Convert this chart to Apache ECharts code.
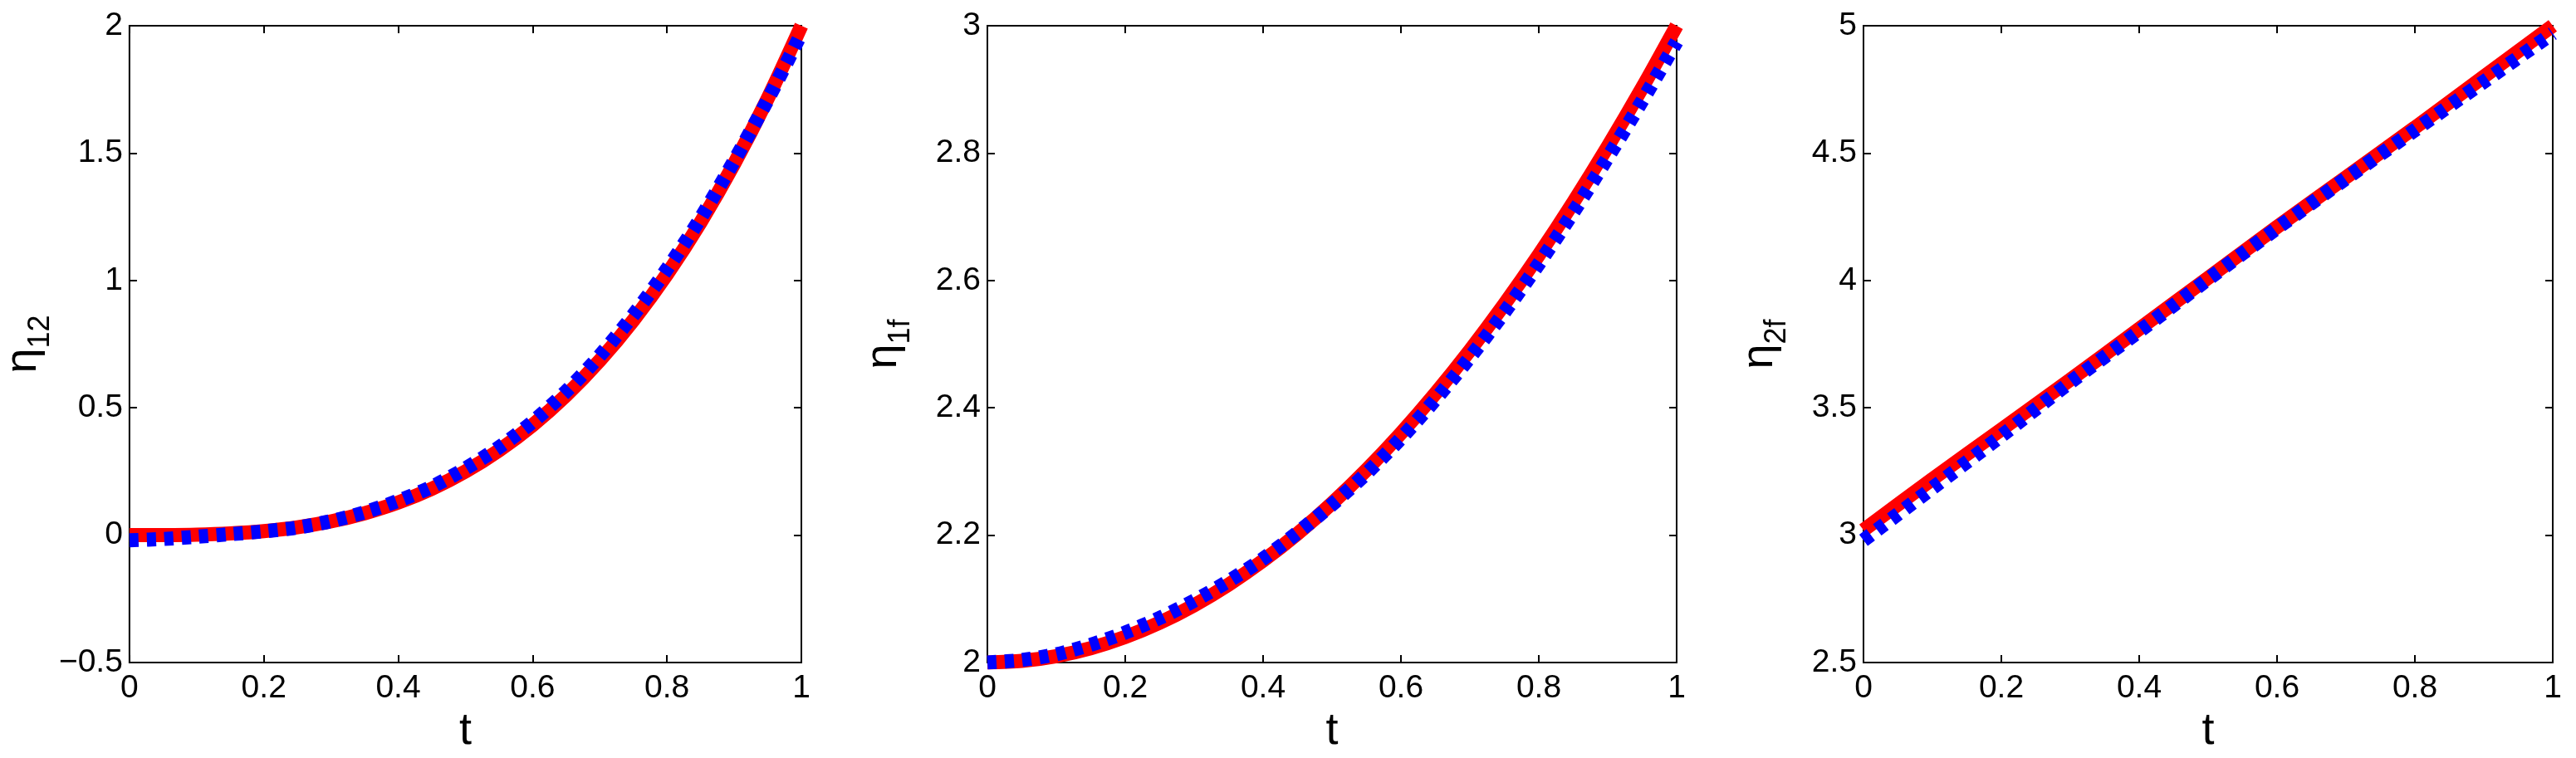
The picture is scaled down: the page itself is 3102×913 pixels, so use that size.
<!DOCTYPE html>
<html>
<head>
<meta charset="utf-8">
<title>eta curves</title>
<script src="https://cdn.jsdelivr.net/npm/echarts@6/dist/echarts.min.js"></script>
<style>
    html, body { margin: 0; padding: 0; background: #fff; }
    #chart { width: 3102px; height: 913px; }
</style>
</head>
<body>
<div id="chart"></div>
<script>
// sample times (t axis)
const tFine = [0, 0.05, 0.1, 0.15, 0.2, 0.25, 0.3, 0.35, 0.4, 0.45, 0.5,
               0.55, 0.6, 0.65, 0.7, 0.75, 0.8, 0.85, 0.9, 0.95, 1]
const tCoarse = [0, 0.1, 0.2, 0.3, 0.4, 0.5, 0.6, 0.7, 0.8, 0.9, 1]

// panel 1: eta_12
const eta12Red = [0, 0.0003, 0.002, 0.007, 0.016, 0.031, 0.054, 0.086, 0.128, 0.182, 0.25,
                  0.333, 0.432, 0.549, 0.686, 0.844, 1.024, 1.228, 1.458, 1.715, 2.0]
const eta12Blue = [-0.02, -0.015, -0.006, 0.004, 0.015, 0.03, 0.055, 0.09, 0.135, 0.19, 0.262,
                   0.345, 0.445, 0.565, 0.705, 0.865, 1.045, 1.245, 1.47, 1.71, 1.97]

// panel 2: eta_1f
const eta1fRed = [2.0, 2.0025, 2.01, 2.0225, 2.04, 2.0625, 2.09, 2.1225, 2.16, 2.2025, 2.25,
                  2.3025, 2.36, 2.4225, 2.49, 2.5625, 2.64, 2.7225, 2.81, 2.9025, 3.0]
const eta1fBlue = [2.0, 2.004, 2.013, 2.028, 2.047, 2.07, 2.097, 2.128, 2.163, 2.204, 2.248,
                   2.297, 2.352, 2.413, 2.479, 2.55, 2.626, 2.707, 2.793, 2.882, 2.975]

// panel 3: eta_2f
const eta2fRed = [3.02, 3.22, 3.415, 3.61, 3.81, 4.01, 4.21, 4.405, 4.6, 4.8, 5.0]
const eta2fBlue = [2.98, 3.185, 3.39, 3.6, 3.8, 4.005, 4.205, 4.4, 4.59, 4.78, 4.97]

const panels = [
    { left: 154, width: 811, yMin: -0.5, yMax: 2, yStep: 0.5, sub: '12', t: tFine, red: eta12Red, blue: eta12Blue },
    { left: 1189, width: 830, yMin: 2, yMax: 3, yStep: 0.2, sub: '1f', t: tFine, red: eta1fRed, blue: eta1fBlue },
    { left: 2244, width: 830, yMin: 2.5, yMax: 5, yStep: 0.5, sub: '2f', t: tCoarse, red: eta2fRed, blue: eta2fBlue }
]

const font = 'Liberation Sans'
const tick = { show: true, inside: true, length: 9, lineStyle: { color: '#000', width: 2 } }
const noLine = { show: false, onZero: false }
// matlab prints a real minus sign
const fmt = v => String(+v.toFixed(2)).replace('-', '\u2212')

const grid = []
const xAxis = []
const yAxis = []
const series = []

panels.forEach((p, i) => {
    grid.push({
        left: p.left, top: 31, width: p.width, height: 767,
        show: true, borderColor: '#000', borderWidth: 2, backgroundColor: '#fff'
    })
    // bottom + top x axes (top one only carries ticks)
    xAxis.push({
        type: 'value', gridIndex: i, min: 0, max: 1, interval: 0.2,
        axisLine: noLine, axisTick: tick, splitLine: { show: false },
        axisLabel: { color: '#000', fontSize: 39, fontFamily: font, margin: 12, formatter: fmt },
        name: 't', nameLocation: 'middle', nameGap: 46,
        nameTextStyle: { color: '#000', fontSize: 54, fontFamily: font }
    })
    xAxis.push({
        type: 'value', gridIndex: i, position: 'top', min: 0, max: 1, interval: 0.2,
        axisLine: noLine, axisTick: tick, splitLine: { show: false }, axisLabel: { show: false }
    })
    yAxis.push({
        type: 'value', gridIndex: i, min: p.yMin, max: p.yMax, interval: p.yStep,
        axisLine: noLine, axisTick: tick, splitLine: { show: false },
        axisLabel: { color: '#000', fontSize: 39, fontFamily: font, margin: 8, formatter: fmt },
        name: '{a|η}{b|' + p.sub + '}', nameLocation: 'middle', nameRotate: 90, nameGap: 86,
        nameTextStyle: {
            color: '#000', fontFamily: font,
            rich: {
                a: { fontSize: 54, fontFamily: font, color: '#000', lineHeight: 78, verticalAlign: 'middle' },
                b: { fontSize: 36, fontFamily: font, color: '#000', verticalAlign: 'bottom' }
            }
        }
    })
    yAxis.push({
        type: 'value', gridIndex: i, position: 'right', min: p.yMin, max: p.yMax, interval: p.yStep,
        axisLine: noLine, axisTick: tick, splitLine: { show: false }, axisLabel: { show: false }
    })

    series.push({
        type: 'line', xAxisIndex: i * 2, yAxisIndex: i * 2,
        data: p.t.map((t, k) => [t, p.red[k]]),
        showSymbol: false, smooth: 0.3,
        lineStyle: { color: '#ff0000', width: 17, cap: 'butt' },
        z: 2
    })
    series.push({
        type: 'line', xAxisIndex: i * 2, yAxisIndex: i * 2,
        data: p.t.map((t, k) => [t, p.blue[k]]),
        showSymbol: false, smooth: 0.3,
        lineStyle: { color: '#0000ff', width: 17, type: [11, 10], cap: 'butt' },
        z: 3
    })
})

const chart = echarts.init(document.getElementById('chart'), null, { renderer: 'canvas' })
chart.setOption({
    animation: false,
    backgroundColor: '#fff',
    grid,
    xAxis,
    yAxis,
    series
})
</script>
</body>
</html>
